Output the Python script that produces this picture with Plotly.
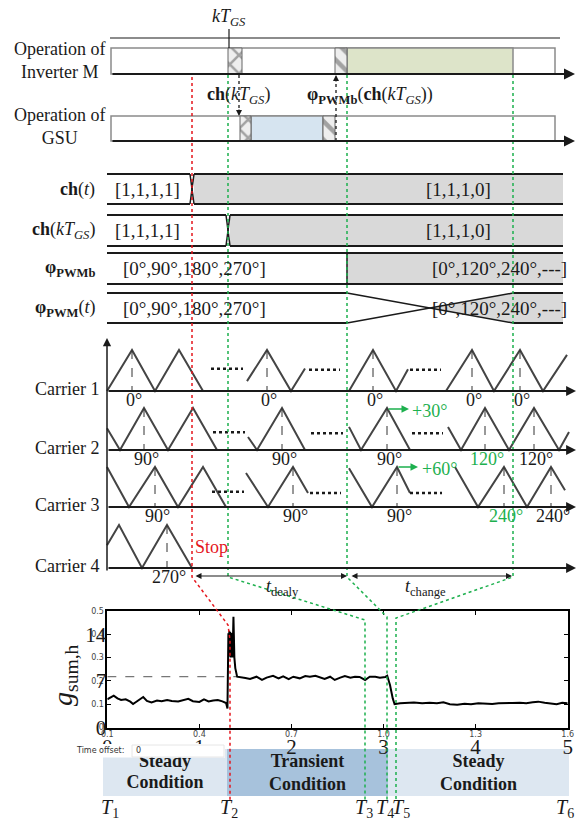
import plotly.graph_objects as go

W, H = 583, 821
SERIF = "Liberation Serif, Times New Roman, Times, serif"
SANS = "DejaVu Sans, sans-serif"
INK = "#1a1a1a"
GREEN = "#1db04e"
RED = "#e5161d"
GRAY_FILL = "#d9d9d9"

# ---------------- measured g_sum,h trace (bottom chart) ----------------
t_sec = [
    0.00, 0.03, 0.07, 0.11, 0.15, 0.20, 0.25, 0.28, 0.32, 0.36,
    0.39, 0.43, 0.48, 0.54, 0.59, 0.65, 0.70, 0.77, 0.82, 0.88,
    0.93, 1.00, 1.05, 1.10, 1.15, 1.20, 1.25, 1.29, 1.305, 1.31,
    1.315, 1.32, 1.325, 1.33, 1.335, 1.34, 1.345, 1.35, 1.355, 1.36,
    1.37, 1.38, 1.39, 1.41, 1.45, 1.50, 1.55, 1.62, 1.68, 1.73,
    1.80, 1.86, 1.91, 1.97, 2.02, 2.09, 2.15, 2.20, 2.26, 2.31,
    2.36, 2.42, 2.47, 2.53, 2.58, 2.64, 2.69, 2.74, 2.80, 2.85,
    2.91, 2.96, 3.02, 3.04, 3.07, 3.10, 3.12, 3.18, 3.25, 3.33,
    3.42, 3.50, 3.58, 3.65, 3.72, 3.80, 3.88, 3.95, 4.03, 4.10,
    4.18, 4.25, 4.33, 4.40, 4.48, 4.55, 4.62, 4.68, 4.75, 4.82,
    4.88, 4.94, 5.00]
g_sum = [
    0.121, 0.128, 0.137, 0.125, 0.118, 0.121, 0.111, 0.101, 0.112, 0.122,
    0.131, 0.114, 0.108, 0.116, 0.113, 0.118, 0.114, 0.112, 0.116, 0.123,
    0.113, 0.110, 0.121, 0.112, 0.116, 0.118, 0.112, 0.105, 0.082, 0.200,
    0.405, 0.310, 0.415, 0.305, 0.410, 0.300, 0.405, 0.310, 0.400, 0.300,
    0.475, 0.300, 0.255, 0.218, 0.214, 0.212, 0.208, 0.218, 0.204, 0.214,
    0.222, 0.211, 0.220, 0.208, 0.218, 0.211, 0.221, 0.218, 0.222, 0.214,
    0.208, 0.218, 0.204, 0.214, 0.221, 0.214, 0.218, 0.217, 0.204, 0.218,
    0.218, 0.214, 0.217, 0.222, 0.182, 0.125, 0.100, 0.104, 0.105, 0.107,
    0.104, 0.106, 0.104, 0.108, 0.100, 0.098, 0.102, 0.100, 0.104, 0.103,
    0.101, 0.104, 0.103, 0.105, 0.106, 0.104, 0.108, 0.111, 0.106, 0.103,
    0.100, 0.106, 0.104]
ref_span = [0.0, 1.40]
ref_level = [0.218, 0.218]

x_tick_vals = [0, 1, 2, 3, 4, 5]
x_tick_big = ["0", "1", "2", "3", "4", "5"]
x_tick_small = ["0.1", "0.4", "0.7", "1.0", "1.3", "1.6"]
y_tick_vals = [0, 0.1, 0.2, 0.3, 0.4, 0.5]
y_tick_small = ["0", "0.1", "0.2", "0.3", "0.4", "0.5"]
y_big_vals = [0, 0.2, 0.4]
y_tick_big = ["0", "7", "14"]

# ---------------- timing diagram content ----------------
signal_labels = ["<b>ch</b>(<i>t</i>)",
                 "<b>ch</b>(<i>kT</i><sub><i>GS</i></sub>)",
                 "<b>φ</b><sub><b>PWMb</b></sub>",
                 "<b>φ</b><sub><b>PWM</b></sub>(<i>t</i>)"]
signal_before = ["[1,1,1,1]", "[1,1,1,1]", "[0°,90°,180°,270°]", "[0°,90°,180°,270°]"]
signal_after = ["[1,1,1,0]", "[1,1,1,0]", "[0°,120°,240°,---]", "[0°,120°,240°,---]"]
signal_switch = [192, 228, 347, 347]
signal_style = ["x", "x", "step", "ramp"]
signal_rows = [(174, 204), (215, 246), (253, 284), (293, 323)]

carrier_names = ["Carrier 1", "Carrier 2", "Carrier 3", "Carrier 4"]
carrier_base = [391, 450, 507, 568]
carrier_amp = [41, 42, 40, 43]
# vertices (x, level) where level 0 = baseline, 1 = peak
carrier_segments = [
    [[(107, 0), (132, 1), (155, 0), (179, 1), (203, 0)],
     [(247, 0.24), (267, 1), (291, 0), (305, 0.55)],
     [(349, 0), (373, 1), (396, 0), (408, 0.53)],
     [(446, 0), (472, 1), (494, 0), (520, 1), (543, 0), (567, 0.88)]],
    [[(107, 0.52), (120, 0), (144, 1), (168, 0), (193, 1), (217, 0)],
     [(248, 0.31), (257, 0), (282, 1), (305, 0)],
     [(349, 0.55), (361, 0), (387, 1), (410, 0)],
     [(448, 0.55), (461, 0), (485, 1), (509, 0), (534, 1), (559, 0), (569, 0.43)]],
    [[(107, 1), (129, 0), (155, 1), (178, 0), (203, 1), (226, 0)],
     [(246, 0.85), (268, 0), (293, 1), (308, 0.35)],
     [(349, 0.97), (372, 0), (397, 1), (410, 0.35)],
     [(455, 1), (478, 0), (504, 1), (527, 0), (551, 1), (565, 0.42)]],
    [[(107, 0.53), (119, 1), (142, 0), (167, 1), (192, 0)]],
]
carrier_dots = [
    [(211, 243, 0.54), (309, 340, 0.52), (410, 441, 0.52)],
    [(213, 245, 0.42), (311, 343, 0.40), (412, 443, 0.40)],
    [(212, 244, 0.38), (310, 341, 0.35), (410, 442, 0.35)],
    [],
]
carrier_marks = [
    [(132, "0°", INK), (267, "0°", INK), (373, "0°", INK), (472, "0°", INK), (520, "0°", INK)],
    [(144, "90°", INK), (282, "90°", INK), (387, "90°", INK), (485, "120°", GREEN), (534, "120°", INK)],
    [(155, "90°", INK), (293, "90°", INK), (397, "90°", INK), (504, "240°", GREEN), (551, "240°", INK)],
    [(167, "270°", INK)],
]

band_labels = ["<b>Steady<br>Condition</b>", "<b>Transient<br>Condition</b>", "<b>Steady<br>Condition</b>"]
band_edges = [103, 227, 388, 569]
band_colors = ["#dde7f1", "#a7c2dc", "#dde7f1"]
instant_labels = ["1", "2", "3", "4", "5", "6"]
instant_x = [110, 229, 364, 385, 401, 565]

shapes, annotations, traces = [], [], []


def seg(x0, y0, x1, y1, color=INK, width=1.5, dash="solid", layer="above"):
    shapes.append(dict(type="line", xref="x", yref="y", x0=x0, y0=y0, x1=x1, y1=y1,
                       line=dict(color=color, width=width, dash=dash), layer=layer))


def box(x0, y0, x1, y1, fill, line_color=None, width=1.5, layer="below"):
    shapes.append(dict(type="rect", xref="x", yref="y", x0=x0, y0=y0, x1=x1, y1=y1,
                       fillcolor=fill, layer=layer,
                       line=dict(color=line_color or fill, width=width if line_color else 0)))


def poly(points, color=INK, width=1.5, dash="solid", fill=None, closed=False, layer="above"):
    p = "M" + " L".join(f"{x},{y}" for x, y in points) + (" Z" if closed else "")
    d = dict(type="path", xref="x", yref="y", path=p, layer=layer,
             line=dict(color=color, width=width, dash=dash))
    if fill:
        d["fillcolor"] = fill
    shapes.append(d)


def txt(x, y, s, size=18, color=INK, family=SERIF, xanchor="center", yanchor="middle", **kw):
    annotations.append(dict(x=x, y=y, xref="x", yref="y", text=s, showarrow=False,
                            font=dict(family=family, size=size, color=color),
                            xanchor=xanchor, yanchor=yanchor, **kw))


def arrow(x, y, ax, ay, color=INK, width=1.5, size=1.0, side="end"):
    annotations.append(dict(x=x, y=y, ax=ax, ay=ay, xref="x", yref="y", axref="x", ayref="y",
                            text="", showarrow=True, arrowhead=2, startarrowhead=2,
                            arrowsize=size, startarrowsize=size, arrowwidth=width,
                            arrowcolor=color, arrowside=side, standoff=0, startstandoff=0))


def hatch(x0, x1, y0, y1, pattern):
    traces.append(go.Scatter(x=[x0, x1, x1, x0, x0], y=[y0, y0, y1, y1, y0], mode="lines",
                             fill="toself", fillcolor="#eeeeee",
                             fillpattern=dict(shape=pattern, size=13, solidity=0.35,
                                              fgcolor="#555555", bgcolor="#eeeeee"),
                             line=dict(color="#666666", width=1), xaxis="x", yaxis="y",
                             hoverinfo="skip", showlegend=False))


# ---------------- operation rows ----------------
seg(110, 38, 560, 38, color="#666666", width=1.5)
seg(229, 29, 229, 48, color=INK, width=1.2)
txt(229, 17, "<i>kT</i><sub><i>GS</i></sub>", size=18)

box(111, 48, 555, 74, "white", "#8a8a8a")
box(347, 48, 513, 74, "#dde4c9", "#8a8a8a")
box(111, 116, 555, 141, "white", "#8a8a8a")
box(251, 116, 323, 141, "#d6e4f0", "#8a8a8a")
hatch(228, 242, 48, 74, "x")
hatch(335, 347, 48, 74, "\\")
hatch(240, 251, 116, 141, "x")
hatch(323, 335, 116, 141, "\\")
arrow(575, 74, 111, 74, width=2, size=1.1)
arrow(575, 141, 111, 141, width=2, size=1.1)
txt(59, 60, "Operation of<br>Inverter M", size=18)
txt(59, 126, "Operation of<br>GSU", size=18)

seg(239, 75, 239, 110, dash="dot", width=1.3)
arrow(239, 116, 239, 108, width=1.2, size=1.0)
seg(336, 141, 336, 82, dash="dot", width=1.3)
arrow(336, 75, 336, 83, width=1.2, size=1.0)
txt(238, 95, "<b>ch</b>(<i>kT</i><sub><i>GS</i></sub>)", size=18)
txt(370, 95, "<b>φ</b><sub><b>PWMb</b></sub>(<b>ch</b>(<i>kT</i><sub><i>GS</i></sub>))", size=18)

# ---------------- signal rows ----------------
for lab, before, after, sx, style, (top, bot) in zip(signal_labels, signal_before, signal_after,
                                                      signal_switch, signal_style, signal_rows):
    mid = (top + bot) / 2
    if style == "x":
        box(sx + 2, top, 563, bot, GRAY_FILL)
        seg(107, top, sx - 2, top, width=2)
        seg(107, bot, sx - 2, bot, width=2)
        seg(sx - 2, top, sx + 2, bot, width=1.5)
        seg(sx - 2, bot, sx + 2, top, width=1.5)
        seg(sx + 2, top, 563, top, width=2)
        seg(sx + 2, bot, 563, bot, width=2)
        txt(147, mid, before, size=19)
        txt(458, mid, after, size=19)
    elif style == "step":
        box(sx, top, 563, bot, GRAY_FILL)
        seg(107, top, 563, top, width=2)
        seg(107, bot, 563, bot, width=2)
        seg(sx, top, sx, bot, width=1.5)
        txt(194, mid, before, size=19)
        txt(499, mid, after, size=19)
    else:
        xc = (sx + 513) / 2
        poly([(xc, mid), (513, top), (563, top), (563, bot), (513, bot)], color=GRAY_FILL,
             width=0, fill=GRAY_FILL, closed=True, layer="below")
        seg(107, top, sx, top, width=2)
        seg(107, bot, sx, bot, width=2)
        seg(sx, top, 513, bot, width=1.5)
        seg(sx, bot, 513, top, width=1.5)
        seg(513, top, 563, top, width=2)
        seg(513, bot, 563, bot, width=2)
        txt(194, mid, before, size=19)
        txt(499, mid, after, size=19)
    txt(97, mid, lab, size=18, xanchor="right")

# ---------------- carriers ----------------
arrow(107, 338, 107, 572, width=1.5, size=1.1)
for name, base, amp, segs, dots, marks in zip(carrier_names, carrier_base, carrier_amp,
                                              carrier_segments, carrier_dots, carrier_marks):
    arrow(576, base, 107, base, width=1.8, size=1.1)
    txt(101, base - 2, name, size=18, xanchor="right")
    for s in segs:
        poly([(x, base - lv * amp) for x, lv in s], color="#444444", width=2)
    for x0, x1, lv in dots:
        seg(x0, base - lv * amp, x1, base - lv * amp, color=INK, width=2.5, dash="dot")
    for x, lab, col in marks:
        seg(x, base - amp, x, base, color="#333333", width=1, dash="dash")
        txt(x + 2, base + 9, lab, size=18, color=col)

arrow(409, 409, 387, 409, color=GREEN, width=1.5, size=1.0)
txt(429, 411, "+30°", size=18, color=GREEN)
arrow(418, 467, 397, 467, color=GREEN, width=1.5, size=1.0)
txt(439, 469, "+60°", size=18, color=GREEN)
txt(211, 547, "Stop", size=18, color=RED)

arrow(347, 576, 194, 576, width=1.2, size=1.0, side="end+start")
arrow(512, 576, 350, 576, width=1.2, size=1.0, side="end+start")
txt(282, 587, "<i>t</i><sub>dealy</sub>", size=18)
txt(425, 587, "<i>t</i><sub>change</sub>", size=18)

# ---------------- condition bands ----------------
for i, (lab, col) in enumerate(zip(band_labels, band_colors)):
    x0, x1 = band_edges[i], band_edges[i + 1]
    box(x0, 749, x1, 796, col)
    if i == 0:
        traces.append(go.Scatter(x=[(x0 + x1) / 2, (x0 + x1) / 2], y=[762, 783],
                                 text=["Steady", "Condition"], mode="text",
                                 textfont=dict(family=SERIF, size=18, color=INK, weight="bold"),
                                 xaxis="x", yaxis="y", hoverinfo="skip", showlegend=False,
                                 cliponaxis=False))
    else:
        txt((x0 + x1) / 2, 772, lab, size=18)
box(40, 744, 225, 757.5, "white", layer="above")
shapes.append(dict(type="rect", xref="x", yref="y", x0=132, y0=745, x1=224, y1=757,
                   fillcolor="rgba(0,0,0,0)", line=dict(color="#e6e6e6", width=1), layer="above"))
txt(126, 750, "Time offset:", size=8, family=SANS, color="#333333", xanchor="right")
txt(134, 750, "0", size=8, family=SANS, color="#333333", xanchor="left")

for lab, x in zip(instant_labels, instant_x):
    txt(x, 808, f"<i>T</i><sub>{lab}</sub>", size=20)

# ---------------- dotted event lines ----------------
poly([(192, 77), (192, 577), (228, 625), (230, 640), (230, 800)], color=RED, width=1.5, dash="dot")
poly([(228, 75), (228, 577), (365, 620), (365, 800)], color=GREEN, width=1.5, dash="dot")
poly([(347, 75), (347, 577), (387, 617), (387, 800)], color=GREEN, width=1.5, dash="dot")
poly([(513, 75), (513, 577), (396, 618), (396, 800)], color=GREEN, width=1.5, dash="dot")

# ---------------- chart traces ----------------
traces.append(go.Scatter(x=ref_span, y=ref_level, mode="lines", xaxis="x2", yaxis="y2",
                         line=dict(color="#777777", width=1.2, dash="dash"), showlegend=False))
traces.append(go.Scatter(x=t_sec, y=g_sum, mode="lines", xaxis="x2", yaxis="y2",
                         line=dict(color="black", width=2), showlegend=False))
traces.append(go.Scatter(x=[None], y=[None], xaxis="x3", yaxis="y2", showlegend=False))
traces.append(go.Scatter(x=[None], y=[None], xaxis="x2", yaxis="y3", showlegend=False))

fig = go.Figure(traces)

px0, px1, py_top, py_bot = 107.3, 567.7, 611.0, 727.5
xdom = [px0 / W, px1 / W]
ydom = [1 - py_bot / H, 1 - py_top / H]

annotations.append(dict(x=64, y=675, xref="x", yref="y", text="<i>g</i><sub>sum,h</sub>",
                        showarrow=False, textangle=-90,
                        font=dict(family=SERIF, size=28, color=INK)))

fig.update_layout(
    width=W, height=H, autosize=False,
    margin=dict(l=0, r=0, t=0, b=0, pad=0, autoexpand=False),
    paper_bgcolor="white", plot_bgcolor="rgba(0,0,0,0)",
    showlegend=False,
    xaxis=dict(range=[0, W], domain=[0, 1], visible=False, fixedrange=True, automargin=False),
    yaxis=dict(range=[H, 0], domain=[0, 1], visible=False, fixedrange=True, automargin=False),
    xaxis2=dict(range=[0, 5], domain=xdom, anchor="y2", showline=True, linecolor="black",
                linewidth=1.5, mirror="ticks", ticks="inside", ticklen=4, tickcolor="black",
                tickvals=x_tick_vals, ticktext=x_tick_big, showgrid=False, zeroline=False,
                automargin=False, tickfont=dict(family=SERIF, size=21, color=INK)),
    xaxis3=dict(range=[0, 5], domain=xdom, anchor="y2", overlaying="x2", side="bottom",
                showline=False, ticks="", tickvals=x_tick_vals, ticktext=x_tick_small,
                showgrid=False, zeroline=False, automargin=False,
                tickfont=dict(family=SANS, size=8, color="#444444")),
    yaxis2=dict(range=[0, 0.5], domain=ydom, anchor="x2", showline=True, linecolor="black",
                linewidth=1.5, mirror="ticks", ticks="inside", ticklen=4, tickcolor="black",
                tickvals=y_tick_vals, ticktext=y_tick_small, showgrid=False, zeroline=False,
                automargin=False, tickfont=dict(family=SANS, size=8, color="#444444")),
    yaxis3=dict(range=[0, 0.5], domain=ydom, anchor="x2", overlaying="y2", side="left",
                showline=False, ticks="", tickvals=y_big_vals, ticktext=y_tick_big,
                showgrid=False, zeroline=False, automargin=False,
                tickfont=dict(family=SERIF, size=21, color=INK)),
    shapes=shapes,
    annotations=annotations,
)

fig.write_html("out.html")
